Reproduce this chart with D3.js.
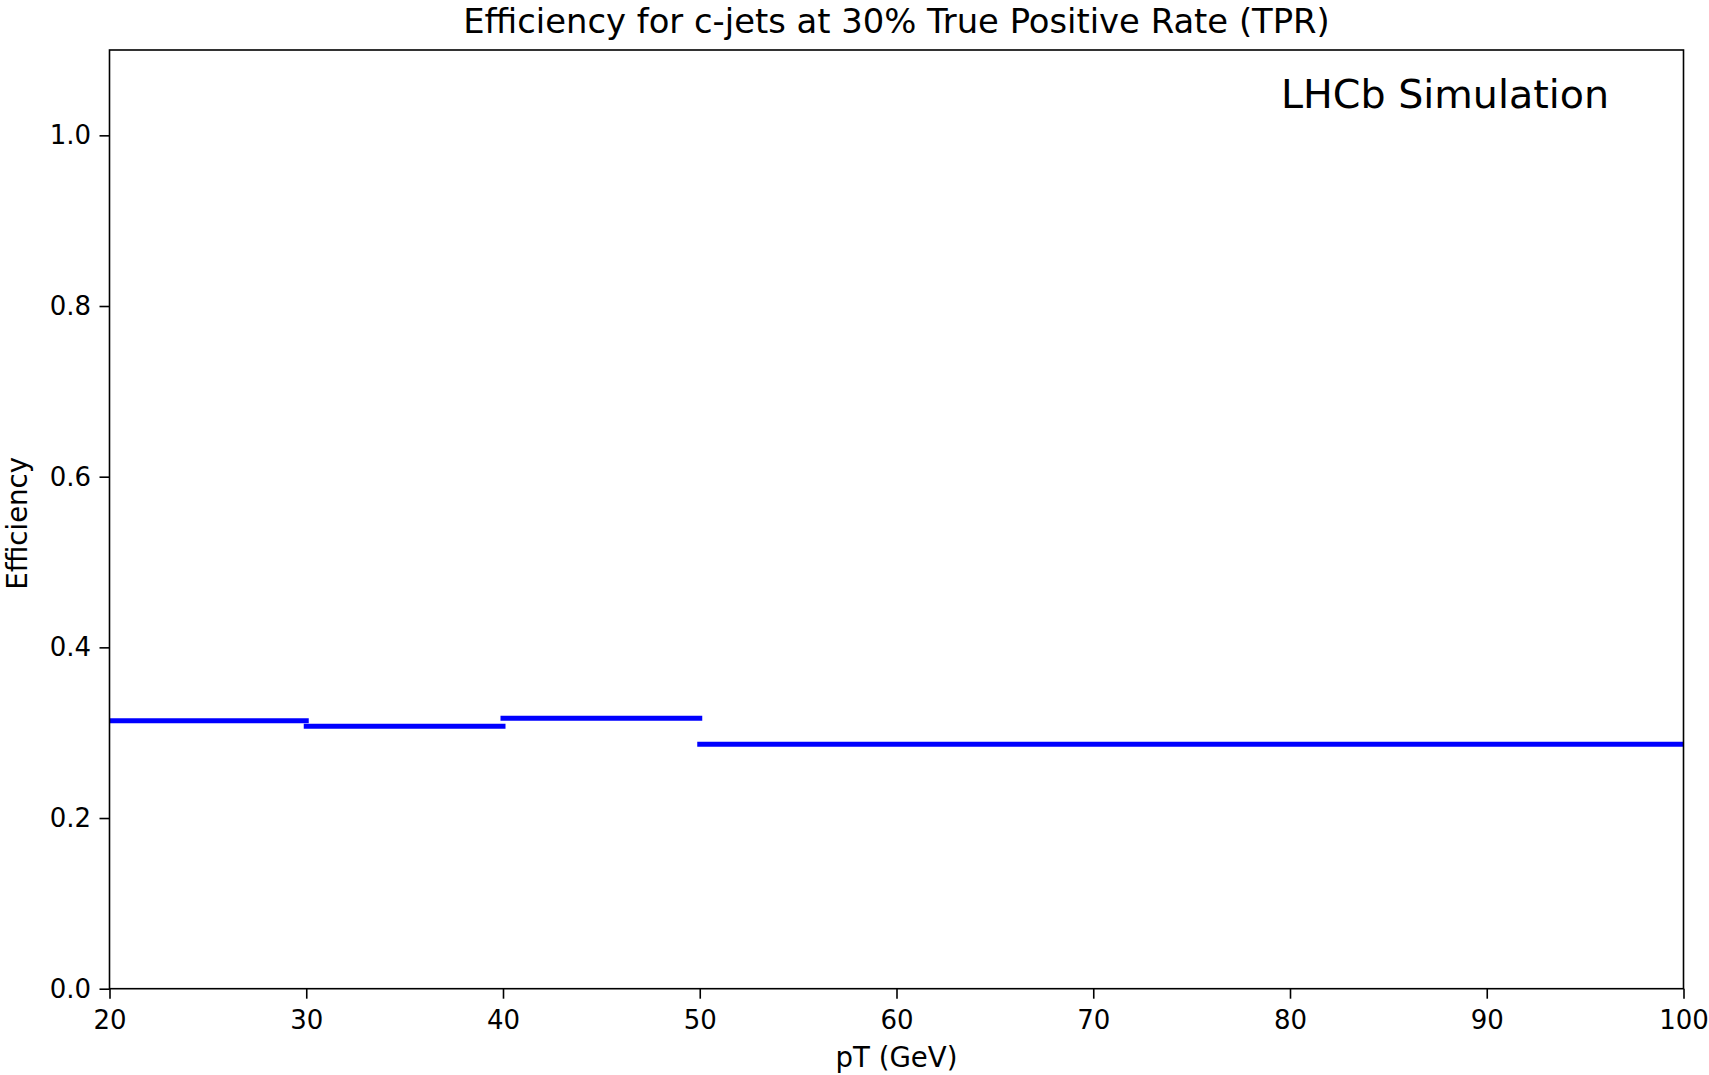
<!DOCTYPE html>
<html>
<head>
<meta charset="utf-8">
<script src="https://cdn.jsdelivr.net/npm/d3@7"></script>
<style>
  html, body { margin: 0; padding: 0; background: #fff; }
  svg { display: block; font-family: "DejaVu Sans", sans-serif; }
</style>
</head>
<body>
<svg id="chart" width="1709" height="1075"></svg>
<script>
// pT bin edges (GeV) and the c-jet efficiency in each bin
const binEdges = [20, 30, 40, 50, 100];
const efficiency = [0.314, 0.3075, 0.317, 0.2865];

const xTicks = [20, 30, 40, 50, 60, 70, 80, 90, 100];
const yTicks = [0.0, 0.2, 0.4, 0.6, 0.8, 1.0];

const titleText = "Efficiency for c-jets at 30% True Positive Rate (TPR)";
const xLabel = "pT (GeV)";
const yLabel = "Efficiency";
const annotation = "LHCb Simulation";

const W = 1709, H = 1075;
const margin = { left: 109.5, right: W - 1683.5, top: 50, bottom: H - 988.7 };
const pw = W - margin.left - margin.right;
const ph = H - margin.top - margin.bottom;

const svg = d3.select("#chart");

const x = d3.scaleLinear().domain([20, 100]).range([0, pw]);
const y = d3.scaleLinear().domain([0, 1.1]).range([ph, 0]);

const g = svg.append("g").attr("transform", `translate(${margin.left},${margin.top})`);

g.append("clipPath").attr("id", "plot-clip")
  .append("rect").attr("width", pw).attr("height", ph);

// step segments, one per pT bin
const bins = efficiency.map((v, i) => ({ x0: binEdges[i], x1: binEdges[i + 1], v }));
g.append("g").attr("clip-path", "url(#plot-clip)")
  .selectAll("line").data(bins).join("line")
  .attr("x1", d => x(d.x0)).attr("x2", d => x(d.x1))
  .attr("y1", d => y(d.v)).attr("y2", d => y(d.v))
  .attr("stroke", "#0000ff")
  .attr("stroke-width", 5)
  .attr("stroke-linecap", "square");

// axes
const tickFont = 26;
const labelFont = 27.6;
const xAxis = g.append("g").attr("transform", `translate(0,${ph})`)
  .call(d3.axisBottom(x).tickValues(xTicks).tickFormat(d3.format("d")).tickSize(10).tickPadding(12));
const yAxis = g.append("g")
  .call(d3.axisLeft(y).tickValues(yTicks).tickFormat(d3.format(".1f")).tickSize(10).tickPadding(8.5));

[xAxis, yAxis].forEach(a => {
  a.select(".domain").remove();
  a.selectAll(".tick line").attr("stroke", "#000").attr("stroke-width", 1.6);
  a.selectAll(".tick text").attr("fill", "#000").attr("font-size", tickFont)
    .attr("font-family", "DejaVu Sans");
});

// frame
g.append("rect").attr("width", pw).attr("height", ph)
  .attr("fill", "none").attr("stroke", "#000").attr("stroke-width", 1.6);

// title and axis labels
svg.append("text").attr("x", margin.left + pw / 2).attr("y", 33)
  .attr("text-anchor", "middle").attr("font-size", 33.8).attr("fill", "#000")
  .text(titleText);

svg.append("text").attr("x", margin.left + pw / 2).attr("y", 1067)
  .attr("text-anchor", "middle").attr("font-size", labelFont).attr("fill", "#000")
  .text(xLabel);

svg.append("text")
  .attr("transform", `translate(27,${margin.top + ph / 2 + 4}) rotate(-90)`)
  .attr("text-anchor", "middle").attr("font-size", labelFont).attr("fill", "#000")
  .text(yLabel);

svg.append("text").attr("x", 1609).attr("y", 108)
  .attr("text-anchor", "end").attr("font-size", 39.6).attr("fill", "#000")
  .text(annotation);
</script>
</body>
</html>
